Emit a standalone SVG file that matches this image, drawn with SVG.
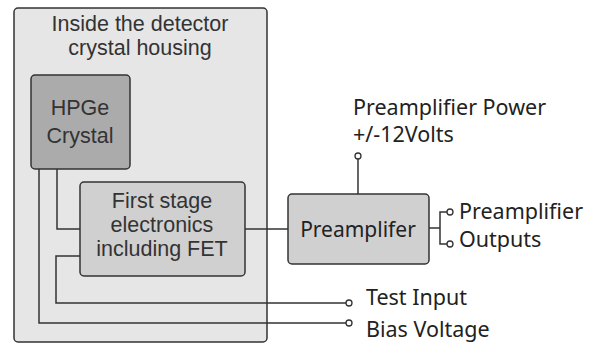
<svg xmlns="http://www.w3.org/2000/svg" width="600" height="345" viewBox="0 0 600 345">
<style>
.box{stroke:#333;stroke-width:1.5}
.lbl{font-family:"Liberation Sans",Arial,sans-serif;font-size:21.5px;fill:#333;text-anchor:middle}
.ext{font-family:"Noto Sans","Open Sans",sans-serif;font-size:21.5px;fill:#222}
.w{fill:none;stroke:#333;stroke-width:1.5}
.c{fill:#fff;stroke:#333;stroke-width:1.3}
</style>
<rect width="600" height="345" fill="#fff"/>
<g id="housing">
<rect class="box" x="14" y="8" width="253" height="334" rx="4" fill="#e6e6e6"/>
<text class="lbl" x="140" y="31">Inside the detector</text>
<text class="lbl" x="140" y="55">crystal housing</text>
</g>
<g id="connectors">
<path class="w" d="M57 169V229H80"/>
<path class="w" d="M245 229H288"/>
<path class="w" d="M80 256H56V303H346"/>
<path class="w" d="M39 169V323H346"/>
<path class="w" d="M358 194V159"/>
<path class="w" d="M429 228H440M447 212H440V244H447"/>
<circle class="c" cx="358" cy="156" r="3"/>
<circle class="c" cx="450" cy="212" r="3"/>
<circle class="c" cx="450" cy="244" r="3"/>
<circle class="c" cx="349" cy="303" r="3"/>
<circle class="c" cx="349" cy="323" r="3"/>
</g>
<g id="hpge">
<rect class="box" x="31" y="75" width="99" height="94" rx="4" fill="#ababab"/>
<text class="lbl" x="80" y="115">HPGe</text>
<text class="lbl" x="80" y="143">Crystal</text>
</g>
<g id="fet">
<rect class="box" x="80" y="182" width="165" height="94" rx="4" fill="#d0d0d0"/>
<text class="lbl" x="162" y="208">First stage</text>
<text class="lbl" x="162" y="232">electronics</text>
<text class="lbl" x="162" y="256">including FET</text>
</g>
<g id="preamp">
<rect class="box" x="288" y="194" width="141" height="70" rx="4" fill="#d0d0d0"/>
<text class="ext" x="358" y="237" text-anchor="middle" style="font-size:21px">Preamplifer</text>
</g>
<g id="labels">
<text class="ext" x="353" y="115">Preamplifier Power</text>
<text class="ext" x="353" y="142">+/-12Volts</text>
<text class="ext" x="459" y="219">Preamplifier</text>
<text class="ext" x="459" y="247">Outputs</text>
<text class="ext" x="366" y="305">Test Input</text>
<text class="ext" x="366" y="337">Bias Voltage</text>
</g>
</svg>
